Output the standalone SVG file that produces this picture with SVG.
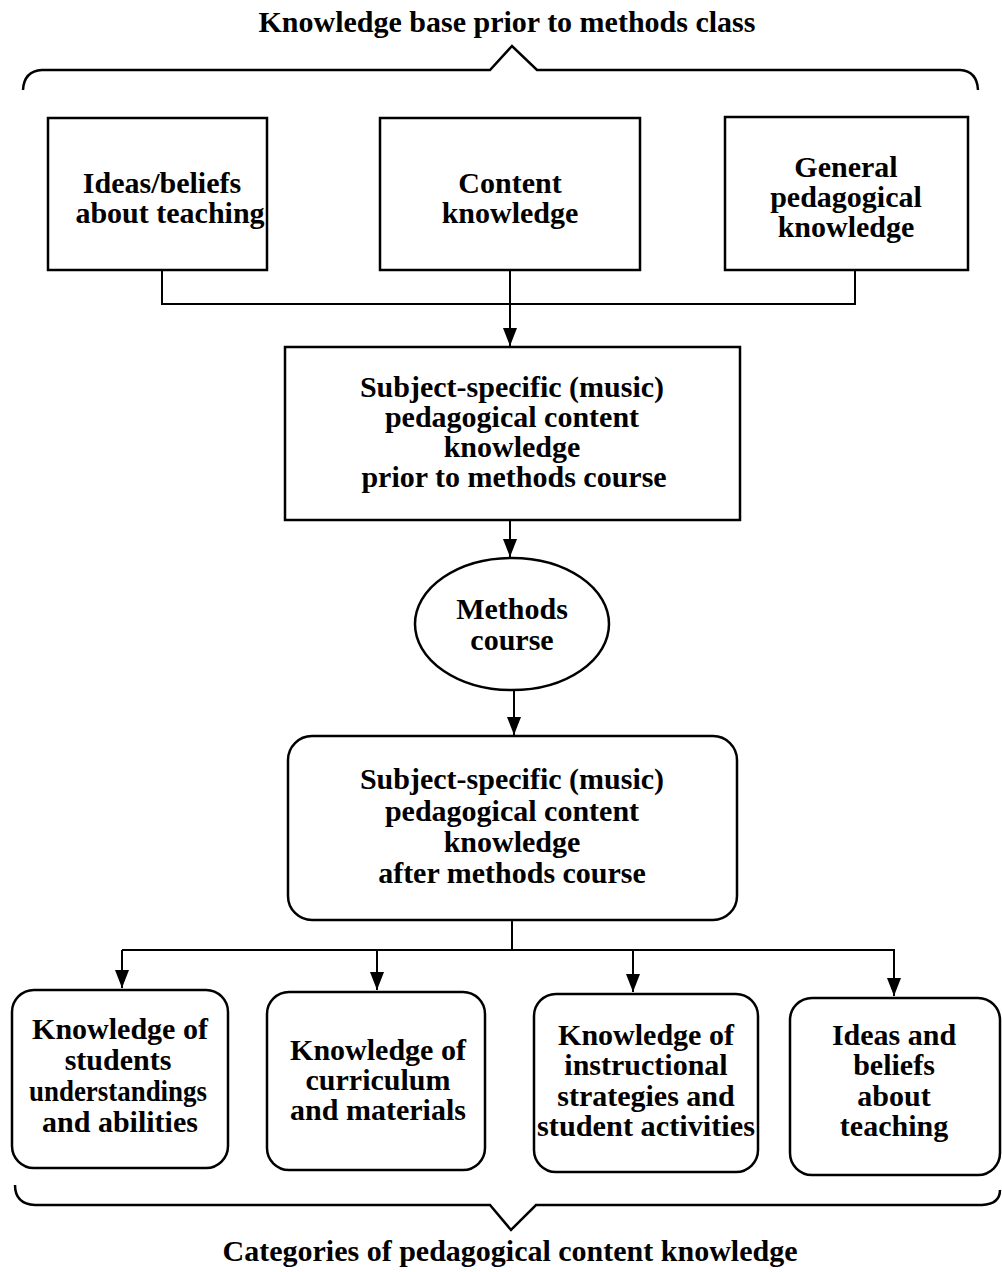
<svg xmlns="http://www.w3.org/2000/svg" width="1002" height="1272" viewBox="0 0 1002 1272">
<defs>
<marker id="ah" viewBox="0 0 18 14" refX="18" refY="7" markerWidth="18" markerHeight="14" markerUnits="userSpaceOnUse" orient="auto">
<path d="M0,0 L18,7 L0,14 z" fill="#000"/>
</marker>
<style>
.t{font-family:"Liberation Serif","Times New Roman",serif;font-weight:bold;font-size:30px;text-anchor:middle;fill:#000}
.b{fill:#fff;stroke:#000;stroke-width:2.5}
.c{fill:none;stroke:#000;stroke-width:2}
.br{fill:none;stroke:#000;stroke-width:2.5}
</style>
</defs>
<rect width="1002" height="1272" fill="#fff"/>
<g id="top-brace">
<text class="t" x="507" y="32">Knowledge base prior to methods class</text>
<path class="br" d="M23,90 Q24,71 42,70 L490,70 L512,46 L537,70 L960,70 Q977,71 978,90"/>
</g>
<g id="connectors">
<path class="c" d="M162,270 L162,304 L855,304 L855,270"/>
<path class="c" d="M510,270 L510,346" marker-end="url(#ah)"/>
<path class="c" d="M510,520 L510,557" marker-end="url(#ah)"/>
<path class="c" d="M514,690 L514,735" marker-end="url(#ah)"/>
<path class="c" d="M512,920 L512,950"/>
<path class="c" d="M122,950 L895,950"/>
<path class="c" d="M122,950 L122,988" marker-end="url(#ah)"/>
<path class="c" d="M377,950 L377,990" marker-end="url(#ah)"/>
<path class="c" d="M633,950 L633,992" marker-end="url(#ah)"/>
<path class="c" d="M894,950 L894,996" marker-end="url(#ah)"/>
</g>
<g id="n-ideas">
<rect class="b" x="48" y="118" width="219" height="152"/>
<text class="t" x="162" y="193">Ideas/beliefs</text>
<text class="t" x="170" y="223">about teaching</text>
</g>
<g id="n-content">
<rect class="b" x="380" y="118" width="260" height="152"/>
<text class="t" x="510" y="193">Content</text>
<text class="t" x="510" y="223">knowledge</text>
</g>
<g id="n-general">
<rect class="b" x="725" y="117" width="243" height="153"/>
<text class="t" x="846" y="177">General</text>
<text class="t" x="846" y="207">pedagogical</text>
<text class="t" x="846" y="237">knowledge</text>
</g>
<g id="n-prior">
<rect class="b" x="285" y="347" width="455" height="173"/>
<text class="t" x="512" y="397">Subject-specific (music)</text>
<text class="t" x="512" y="427">pedagogical content</text>
<text class="t" x="512" y="457">knowledge</text>
<text class="t" x="514" y="487">prior to methods course</text>
</g>
<g id="n-methods">
<ellipse class="b" cx="512" cy="624" rx="97" ry="66"/>
<text class="t" x="512" y="619">Methods</text>
<text class="t" x="512" y="650">course</text>
</g>
<g id="n-after">
<rect class="b" x="288" y="736" width="449" height="184" rx="24"/>
<text class="t" x="512" y="789">Subject-specific (music)</text>
<text class="t" x="512" y="821">pedagogical content</text>
<text class="t" x="512" y="852">knowledge</text>
<text class="t" x="512" y="883">after methods course</text>
</g>
<g id="n-students">
<rect class="b" x="12" y="990" width="216" height="178" rx="22"/>
<text class="t" x="120" y="1039">Knowledge of</text>
<text class="t" x="118" y="1070">students</text>
<text class="t" x="118" y="1101" textLength="178" lengthAdjust="spacingAndGlyphs">understandings</text>
<text class="t" x="120" y="1132">and abilities</text>
</g>
<g id="n-curriculum">
<rect class="b" x="267" y="992" width="218" height="178" rx="22"/>
<text class="t" x="378" y="1060">Knowledge of</text>
<text class="t" x="378" y="1090">curriculum</text>
<text class="t" x="378" y="1120">and materials</text>
</g>
<g id="n-strategies">
<rect class="b" x="534" y="994" width="224" height="178" rx="22"/>
<text class="t" x="646" y="1045">Knowledge of</text>
<text class="t" x="646" y="1075">instructional</text>
<text class="t" x="646" y="1106">strategies and</text>
<text class="t" x="646" y="1136" textLength="218" lengthAdjust="spacingAndGlyphs">student activities</text>
</g>
<g id="n-ideas2">
<rect class="b" x="790" y="998" width="210" height="177" rx="22"/>
<text class="t" x="894" y="1045">Ideas and</text>
<text class="t" x="894" y="1075">beliefs</text>
<text class="t" x="894" y="1106">about</text>
<text class="t" x="894" y="1136">teaching</text>
</g>
<g id="bottom-brace">
<path class="br" d="M15,1185 Q15,1204 35,1205 L490,1205 L511,1230 L536,1205 L982,1205 Q1000,1204 1000,1190"/>
<text class="t" x="510" y="1261">Categories of pedagogical content knowledge</text>
</g>
</svg>
